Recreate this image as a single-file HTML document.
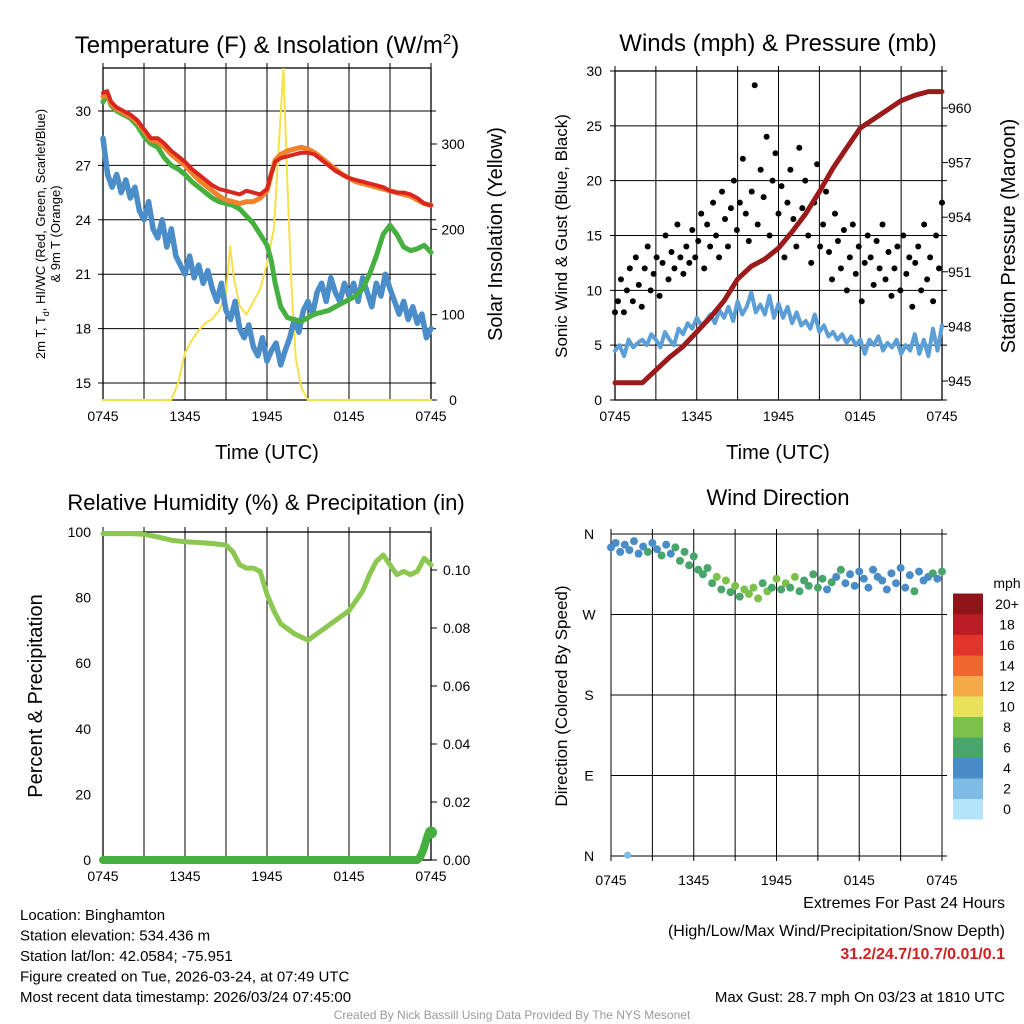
<!DOCTYPE html>
<html><head><meta charset="utf-8"><style>
body{margin:0;background:#fff;}
svg{display:block;font-family:"Liberation Sans",sans-serif;}
</style></head><body>
<svg id="c" width="1024" height="1024" xmlns="http://www.w3.org/2000/svg"></svg>
<script>
// ---- data ----
const timeTicks=["0745","1345","1945","0145","0745"];
const tempT=[0,0.3,0.6,1,1.5,2,2.5,3,3.5,4,4.5,5,5.5,6,6.5,7,7.5,8,8.5,9,9.5,10,10.5,11,11.5,12,12.3,12.6,13,13.5,14,14.5,15,15.5,16,16.5,17,17.5,18,18.5,19,19.5,20,20.5,21,21.5,22,22.5,23,23.5,24];
const temp=[31,31.1,30.5,30.2,30,29.8,29.5,29,28.5,28.5,28.2,27.8,27.5,27.2,26.8,26.5,26.2,25.9,25.7,25.6,25.5,25.4,25.6,25.5,25.4,25.7,26.5,27.2,27.4,27.5,27.6,27.7,27.7,27.6,27.3,27,26.7,26.5,26.3,26.2,26.1,26,25.9,25.8,25.6,25.5,25.5,25.4,25.2,24.9,24.8];
const temp9=[30.8,30.9,30.4,30.1,29.9,29.7,29.4,28.9,28.4,28.3,28,27.6,27.3,27,26.6,26.2,25.9,25.6,25.3,25.1,25,24.9,25,25,25.2,25.6,26.5,27.3,27.6,27.8,27.9,28,27.9,27.7,27.4,27.1,26.8,26.5,26.3,26.1,26,25.9,25.8,25.7,25.6,25.5,25.4,25.3,25.1,24.9,24.8];
const heatIdx=[30.5,30.9,30.3,30,29.8,29.6,29.2,28.6,28.2,28,27.4,27,26.8,26.5,26.1,25.8,25.5,25.2,25,24.9,24.8,24.6,24.2,23.8,23.2,22.6,21.8,20.5,19.2,18.6,18.5,18.4,18.6,18.8,18.9,19,19.2,19.4,19.6,19.8,20.2,21,22,23.2,23.7,23.2,22.5,22.3,22.4,22.6,22.2];
const dew=[28.5,26.5,25.8,26.5,25.5,26.2,25.2,25.8,24.5,24,25,23.5,23,24,22.5,23.5,22,21.5,21,22,20.8,21.5,20.5,21.2,20.2,19.5,20.5,19,18.5,19.5,18,17.5,18.2,17,16.5,17.5,16.2,16.8,17.2,16,16.8,17.5,18.5,17.8,19,19.5,18.8,20,20.5,19.5,20.8,20,19.5,20.5,19.8,20.5,19.5,20.8,20,19.2,20.5,19.8,21,20.2,19.5,18.8,19.5,18.5,19.2,18.3,18.8,17.5,18];
const solarT=[0,5,5.5,6,6.5,7,7.5,8,8.5,9,9.3,9.6,10,10.5,11,11.5,12,12.5,12.8,13.2,13.5,13.8,14.1,14.5,15,24];
const solar=[0,0,20,55,70,82,90,95,105,125,180,140,110,100,115,130,160,200,280,388,250,130,50,15,0,0];
const windSpd=[4.5,5,4,5.5,4.8,5.2,5.5,5,6,5.5,4.8,6.2,5.5,5,6.5,6,7,6.5,7.5,6.8,7.2,7.8,7,8.2,7.5,8.5,7.2,9,7.8,8.5,9.8,8,8.7,7.8,9.5,7.5,8.8,7.5,8.5,7,8,6.8,7.2,6.5,7.8,6.2,6.8,5.8,6.2,5.5,6,5.2,5.8,5,5.5,4.2,5.5,5,5.8,4.5,5.2,4.8,5.5,4.2,5,4.5,6,4.2,5.5,4,6.5,4.5,6.8];
const gust=[8,9,11,8,10,12,9,13,10.5,8.5,12,14,10,11.5,13,9.5,12.5,15,11,13.5,12,16,13,11.5,14,12.5,15.5,13,14.5,17,12,16,14,18,15,13,19,16.5,14,17.5,20,15.5,18,22,17,14.5,19,28.7,16,21,18.5,24,15,20,22.5,17,19.5,13,18,21,16.5,14,23,17.5,20,15,12.5,18,21.5,14,16,19,13.5,11,17,14.5,12,15.5,10,13,16,11.5,14,9,12.5,15,13,10.5,14.5,12,16,11,13.5,9.5,12,14,10,15,11.5,13,8.5,12.5,14,10,16,11,13,9,15,12,18];
const presT=[0,1,2,3,4,5,6,7,8,9,10,11,12,13,14,15,16,17,18,19,20,21,22,23,24];
const pressure=[944.9,944.9,944.9,945.6,946.3,946.9,947.7,948.5,949.4,950.6,951.3,951.7,952.3,953.2,954.2,955.4,956.7,957.8,958.9,959.4,959.9,960.4,960.7,960.9,960.9];
const rhT=[0,2,3,4,5,6,7,8,9,9.5,10,10.5,11,11.5,12,12.5,13,14,15,16,17,18,18.5,19,19.5,20,20.5,21,21.5,22,22.5,23,23.5,24];
const rh=[99.5,99.5,99.3,98.5,97.5,97,96.8,96.5,96,94,90,89,89,88,81,76,72,69,67,70,73,76,79,82,87,91,93,90,87,88,87,88,92,90];
const precipT=[0,23,23.2,23.4,23.6,23.8,24];
const precip=[0,0,0.001,0.003,0.006,0.009,0.0095];
const windDir=[345,350,340,348,342,352,338,346,340,350,343,336,348,338,345,330,340,325,335,320,315,322,305,312,298,308,295,302,290,298,293,300,288,305,296,300,310,298,305,300,312,296,308,302,315,300,310,298,306,312,320,305,315,302,318,310,300,320,312,308,298,316,305,322,300,314,296,318,308,312,316,310,318];
const cbarLabels=["0","2","4","6","8","10","12","14","16","18","20+"];
const cbarColors=["#b3e3f8","#7ebbe5","#4a8cc7","#48a56c","#7cc24a","#e8e15a","#f6a948","#f0662f","#e1342b","#bb1c25","#8f1518"];

// ---- helpers ----
const svg=document.getElementById('c');
const NS="http://www.w3.org/2000/svg";
function el(tag,attrs,txt){const e=document.createElementNS(NS,tag);for(const k in attrs)e.setAttribute(k,attrs[k]);if(txt!==undefined)e.textContent=txt;svg.appendChild(e);return e;}
function lin(d0,d1,r0,r1){return v=>r0+(v-d0)/(d1-d0)*(r1-r0);}
function polyline(xs,ys,sx,sy,color,w,name){
  const pts=xs.map((x,i)=>sx(x).toFixed(1)+","+sy(ys[i]).toFixed(1)).join(" ");
  const p=el('polyline',{points:pts,fill:'none',stroke:color,'stroke-width':w,'stroke-linejoin':'round','stroke-linecap':'round'});
  
  
  return p;
}
function idxT(arr){return arr.map((_,i)=>i*24/(arr.length-1));}
function frame(x0,y0,x1,y1,sx,name){
  for(let h=0;h<=24;h+=3){const x=sx(h);const g=el('line',{x1:x,y1:y0-5,x2:x,y2:y1,stroke:'#000','stroke-width':1});}
  const r=el('rect',{x:x0,y:y0,width:x1-x0,height:y1-y0,fill:'none',stroke:'#000','stroke-width':1.3});
  
  
  timeTicks.forEach((t,i)=>{const x=sx(i*6);const tx=el('text',{x:x,y:y1+21,'font-size':14,'text-anchor':'middle'},t);});
}
function hgrid(x0,x1,y){const g=el('line',{x1:x0,y1:y,x2:x1+5,y2:y,stroke:'#000','stroke-width':1});}
function label(x,y,t,size,anchor,name,rot){const a={x:x,y:y,'font-size':size,'text-anchor':anchor||'middle'};if(rot)a.transform=`rotate(-90 ${x} ${y})`;const e=el('text',a,t);return e;}

// ---- Panel 1 ----
{
const X0=103,X1=431,Y0=68,Y1=400;
const sx=lin(0,24,X0,X1), sy=lin(15,30,383,111), sys=lin(0,300,400,144);
frame(X0,Y0,X1,Y1,sx,'temperature-plot-frame');
[15,18,21,24,27,30].forEach(v=>{hgrid(X0-5,X1,sy(v));label(X0-12,sy(v)+5,String(v),14,'end','temp-tick-label');});
[0,100,200,300].forEach(v=>{const y=sys(v);const t=el('line',{x1:X1,y1:y,x2:X1+6,y2:y,stroke:'#000'});label(X1+22,y+5,String(v),14,'middle','solar-tick-label');});
polyline(solarT,solar,sx,sys,'#f7e04a',2,'solar-insolation-line');
polyline(idxT(dew),dew,sx,sy,'#4a8dc8',5.5,'dewpoint-line');
polyline(tempT,heatIdx,sx,sy,'#45b03f',5,'heat-index-line');
polyline(tempT,temp9,sx,sy,'#f0822c',5,'temp-9m-line');
polyline(tempT,temp,sx,sy,'#d9261f',4,'temp-2m-line');
const t1=label(267,53,'',24,'middle','temperature-title');
t1.innerHTML='Temperature (F) &amp; Insolation (W/m<tspan dy="-9" font-size="15">2</tspan><tspan dy="9">)</tspan>';
label(267,459,'Time (UTC)',20,'middle','x-axis-title');
const yl=label(45,234,'',13,'middle','temp-y-axis-title',true);
yl.innerHTML='2m T, T<tspan dy="4" font-size="9">d</tspan><tspan dy="-4">, HI/WC (Red, Green, Scarlet/Blue)</tspan>';
label(60,234,'& 9m T (Orange)',13,'middle','temp-y-axis-title-2',true);
label(502,234,'Solar Insolation (Yellow)',20,'middle','solar-y-axis-title',true);
}
// ---- Panel 2 ----
{
const X0=615,X1=942,Y0=71,Y1=400;
const sx=lin(0,24,X0,X1), sy=lin(0,30,400,71), sp=lin(945,960,381,108);
frame(X0,Y0,X1,Y1,sx,'winds-plot-frame');
[0,5,10,15,20,25,30].forEach(v=>{hgrid(X0-5,X1,sy(v));label(X0-13,sy(v)+5,String(v),14,'end','wind-tick-label');});
[945,948,951,954,957,960].forEach(v=>{const y=sp(v);const t=el('line',{x1:X1,y1:y,x2:X1+6,y2:y,stroke:'#000'});label(X1+6,y+5,String(v),14,'start','pressure-tick-label');});
polyline(idxT(windSpd),windSpd,sx,sy,'#5c9fd6',4,'wind-speed-line');
const gt=idxT(gust);
gust.forEach((g,i)=>{const c=el('circle',{cx:sx(gt[i]),cy:sy(g),r:3,fill:'#000'});});
polyline(presT,pressure,sx,sp,'#9b1b1c',5,'pressure-line');
label(778,51,'Winds (mph) & Pressure (mb)',24,'middle','winds-title');
label(778,459,'Time (UTC)',20,'middle','x-axis-title-2');
label(567,236,'Sonic Wind & Gust (Blue, Black)',17,'middle','wind-y-axis-title',true);
label(1015,236,'Station Pressure (Maroon)',20,'middle','pressure-y-axis-title',true);
}
// ---- Panel 3 ----
{
const X0=103,X1=431,Y0=532,Y1=860;
const sx=lin(0,24,X0,X1), sy=lin(0,100,860,532), sq=lin(0,0.1,860,570);
frame(X0,Y0,X1,Y1,sx,'humidity-plot-frame');
[0,20,40,60,80,100].forEach(v=>{label(X0-12,sy(v)+5,String(v),14,'end','rh-tick-label');});
[0,0.02,0.04,0.06,0.08,0.10].forEach(v=>{const y=sq(v);const t=el('line',{x1:X1,y1:y,x2:X1+6,y2:y,stroke:'#000'});label(X1+12,y+5,v.toFixed(2),14,'start','precip-tick-label');});
polyline(rhT,rh,sx,sy,'#8cc751',5,'rh-line');
polyline(precipT,precip,sx,sq,'#45b03f',8,'precip-line');
const pe=el('circle',{cx:sx(24),cy:sq(precip[precip.length-1]),r:6,fill:'#45b03f'});
label(266,510,'Relative Humidity (%) & Precipitation (in)',22,'middle','humidity-title');
label(42,696,'Percent & Precipitation',20,'middle','rh-y-axis-title',true);
}
// ---- Panel 4 ----
{
const X0=611,X1=942,Y0=534,Y1=856;
const sx=lin(0,24,X0,X1), sy=lin(0,360,856,534);
for(let h=0;h<=24;h+=3){const x=sx(h);const g=el('line',{x1:x,y1:Y0-5,x2:x,y2:Y1+5,stroke:'#000'});}
[0,90,180,270,360].forEach((v,i)=>{const y=sy(v);hgrid(X0,X1,y);label(X0-22,y+5,['N','E','S','W','N'][i],14,'middle','direction-tick-label');});
timeTicks.forEach((t,i)=>label(sx(i*6),Y1+29,t,14,'middle','x-tick-label'));
const dt=idxT(windDir);
function colorFor(s){let k=Math.floor(s/2);if(k<0)k=0;if(k>10)k=10;return cbarColors[k];}
windDir.forEach((d,i)=>{const c=el('circle',{cx:sx(dt[i]),cy:sy(d),r:4,fill:colorFor(windSpd[i])});});
const st=el('circle',{cx:sx(1.2),cy:sy(1),r:3.5,fill:cbarColors[1]});
label(778,505,'Wind Direction',22,'middle','wind-direction-title');
label(567,696,'Direction (Colored By Speed)',17,'middle','direction-y-axis-title',true);
const bh=20.5;
cbarColors.forEach((c,i)=>{const y=819-(i+1)*bh;const r=el('rect',{x:953,y:y,width:30,height:bh+0.5,fill:c});label(1007,y+bh/2+5,cbarLabels[i],14,'middle','colorbar-label');});
label(1007,588,'mph',14,'middle','colorbar-title');
}
// ---- footer ----
['Location: Binghamton','Station elevation: 534.436 m','Station lat/lon: 42.0584; -75.951','Figure created on Tue, 2026-03-24, at 07:49 UTC','Most recent data timestamp: 2026/03/24 07:45:00'].forEach((t,i)=>label(20,920+i*20.5,t,15,'start','station-info-line'));
label(1005,908,'Extremes For Past 24 Hours',16,'end','extremes-title');
label(1005,936,'(High/Low/Max Wind/Precipitation/Snow Depth)',16,'end','extremes-subtitle');
const ex=label(1005,959,'31.2/24.7/10.7/0.01/0.1',16,'end','extremes-values');ex.setAttribute('fill','#d02020');ex.setAttribute('font-weight','bold');
label(1005,1002,'Max Gust: 28.7 mph On 03/23 at 1810 UTC',15,'end','max-gust-text');
const cr=label(512,1019,'Created By Nick Bassill Using Data Provided By The NYS Mesonet',12,'middle','credit-text');cr.setAttribute('fill','#999');
</script>
</body></html>
